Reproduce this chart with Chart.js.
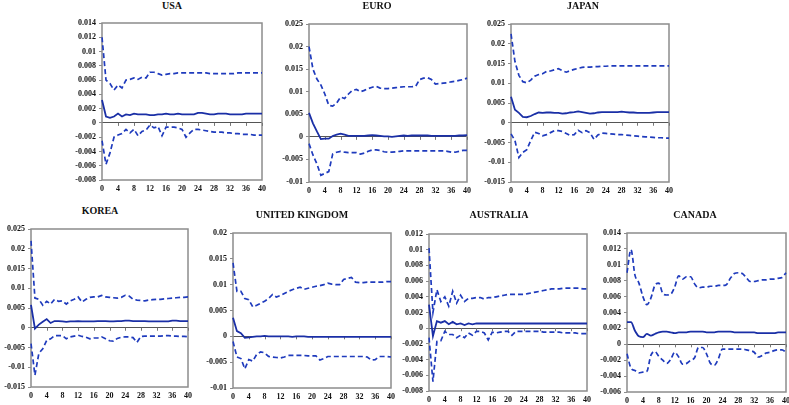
<!DOCTYPE html>
<html>
<head>
<meta charset="utf-8">
<script src="https://cdn.jsdelivr.net/npm/chart.js@4/dist/chart.umd.min.js"></script>
<style>
  body { margin: 0; background: #fff; width: 789px; height: 405px; overflow: hidden; position: relative; }
  .panel { position: absolute; }
  .title { position: absolute; font-family: "Liberation Serif", serif; font-weight: bold; font-size: 10px; color: #111; transform: translate(-50%, -50%); white-space: nowrap; }
</style>
</head>
<body>
<script>
//================================ DATA ================================//
var horizons = Array.from({length: 41}, function(_, i){ return i; });

var usaUpper = [0.012, 0.006, 0.0055, 0.0046, 0.0053, 0.0049, 0.006, 0.0061, 0.0063, 0.0061,
  0.0064, 0.0063, 0.0071, 0.0071, 0.0069, 0.0067, 0.0068, 0.0069, 0.0069, 0.007,
  0.007, 0.007, 0.007, 0.007, 0.007, 0.007, 0.007, 0.0069, 0.0069, 0.0069,
  0.0069, 0.0069, 0.0069, 0.0069, 0.007, 0.007, 0.007, 0.007, 0.007, 0.007, 0.007];
var usaIrf = [0.0032, 0.0009, 0.0007, 0.0009, 0.0013, 0.0009, 0.0012, 0.0011, 0.0013, 0.0012,
  0.0012, 0.0012, 0.0011, 0.0011, 0.0012, 0.0012, 0.0013, 0.0012, 0.0012, 0.0013,
  0.0012, 0.0012, 0.0012, 0.0012, 0.0014, 0.0014, 0.0013, 0.0012, 0.0012, 0.0013,
  0.0013, 0.0013, 0.0012, 0.0012, 0.0012, 0.0012, 0.0013, 0.0013, 0.0013, 0.0013, 0.0013];
var usaLower = [-0.0025, -0.0058, -0.0042, -0.002, -0.0017, -0.0015, -0.0009, -0.0014, -0.0009, -0.0018,
  -0.0012, -0.001, -0.0003, -0.0007, -0.0005, -0.0018, -0.0006, -0.0006, -0.0006, -0.0007,
  -0.0009, -0.002, -0.0014, -0.0009, -0.0009, -0.001, -0.0011, -0.0012, -0.0013, -0.0013,
  -0.0013, -0.0014, -0.0014, -0.0015, -0.0015, -0.0016, -0.0016, -0.0016, -0.0017, -0.0017, -0.0017];

var euroUpper = [0.02, 0.015, 0.0128, 0.0115, 0.0095, 0.007, 0.0068, 0.0075, 0.0088, 0.0085,
  0.0095, 0.0103, 0.0105, 0.01, 0.0103, 0.0107, 0.011, 0.0112, 0.0108, 0.0107,
  0.0107, 0.0108, 0.0109, 0.011, 0.0111, 0.0111, 0.0111, 0.0112, 0.0127, 0.013,
  0.0131, 0.0127, 0.0117, 0.0118, 0.0119, 0.012, 0.0122, 0.0123, 0.0125, 0.0127, 0.013];
var euroIrf = [0.0053, 0.003, 0.0012, -0.0005, -0.0004, -0.0004, 0.0002, 0.0005, 0.0007, 0.0005,
  0.0002, 0.0002, 0.0002, 0.0002, 0.0002, 0.0003, 0.0004, 0.0003, 0.0002, 0.0001,
  0.0001, 0.0, 0.0001, 0.0002, 0.0003, 0.0002, 0.0003, 0.0003, 0.0003, 0.0003,
  0.0003, 0.0002, 0.0002, 0.0002, 0.0002, 0.0002, 0.0002, 0.0002, 0.0003, 0.0003, 0.0004];
var euroLower = [-0.0015, -0.004, -0.006, -0.0085, -0.0081, -0.0077, -0.0038, -0.0034, -0.0032, -0.0034,
  -0.0035, -0.0035, -0.0035, -0.0038, -0.0036, -0.0032, -0.0029, -0.0029, -0.003, -0.0033,
  -0.0034, -0.0034, -0.0033, -0.0032, -0.0031, -0.0031, -0.0031, -0.0031, -0.0031, -0.0031,
  -0.0031, -0.0031, -0.0031, -0.0031, -0.0031, -0.0032, -0.0034, -0.0034, -0.0032, -0.003, -0.003];

var japanUpper = [0.0225, 0.0155, 0.012, 0.0104, 0.0101, 0.0108, 0.0118, 0.0122, 0.0124, 0.013,
  0.0131, 0.0134, 0.0137, 0.0132, 0.0128, 0.0132, 0.0135, 0.0138, 0.014, 0.0141,
  0.0141, 0.0142, 0.0142, 0.0143, 0.0143, 0.0144, 0.0144, 0.0144, 0.0144, 0.0144,
  0.0144, 0.0144, 0.0144, 0.0144, 0.0144, 0.0144, 0.0144, 0.0144, 0.0144, 0.0144, 0.0144];
var japanIrf = [0.0066, 0.0033, 0.0025, 0.0015, 0.0014, 0.0017, 0.0022, 0.0026, 0.0025, 0.0026,
  0.0026, 0.0025, 0.0025, 0.0023, 0.0024, 0.0026, 0.0027, 0.0029, 0.0027, 0.0025,
  0.0023, 0.0024, 0.0026, 0.0027, 0.0027, 0.0027, 0.0027, 0.0027, 0.0028, 0.0027,
  0.0026, 0.0026, 0.0025, 0.0025, 0.0025, 0.0025, 0.0026, 0.0027, 0.0027, 0.0027, 0.0027];
var japanLower = [-0.0028, -0.0045, -0.0088, -0.0075, -0.0068, -0.0045, -0.0024, -0.0027, -0.0033, -0.003,
  -0.0025, -0.002, -0.002, -0.0022, -0.0027, -0.0032, -0.003, -0.0019, -0.0025, -0.002,
  -0.0025, -0.0042, -0.0031, -0.0026, -0.0027, -0.0028, -0.0029, -0.003, -0.003, -0.0031,
  -0.0032, -0.0033, -0.0034, -0.0035, -0.0036, -0.0036, -0.0037, -0.0038, -0.0038, -0.0039, -0.0039];

var koreaUpper = [0.022, 0.0075, 0.0072, 0.0057, 0.0067, 0.006, 0.0072, 0.0067, 0.0068, 0.006,
  0.0068, 0.0072, 0.0078, 0.0065, 0.0072, 0.0077, 0.0078, 0.0078, 0.0082, 0.0078,
  0.0077, 0.0076, 0.0075, 0.0077, 0.0082, 0.008, 0.0072, 0.007, 0.0069, 0.0068,
  0.007, 0.0071, 0.0072, 0.0072, 0.0073, 0.0074, 0.0075, 0.0076, 0.0077, 0.0077, 0.0078];
var koreaIrf = [0.0058, -0.0002, 0.0008, 0.0015, 0.0022, 0.0012, 0.0017, 0.0017, 0.0016, 0.0015,
  0.0016, 0.0016, 0.0017, 0.0016, 0.0016, 0.0016, 0.0016, 0.0017, 0.0017, 0.0017,
  0.0016, 0.0016, 0.0017, 0.0017, 0.0018, 0.0018, 0.0017, 0.0017, 0.0017, 0.0017,
  0.0016, 0.0016, 0.0016, 0.0016, 0.0016, 0.0016, 0.0018, 0.0018, 0.0017, 0.0017, 0.0017];
var koreaLower = [-0.004, -0.012, -0.0065, -0.0053, -0.0032, -0.0028, -0.002, -0.002, -0.002, -0.0028,
  -0.0023, -0.0021, -0.0019, -0.0022, -0.0024, -0.0028, -0.0026, -0.0026, -0.0023, -0.0028,
  -0.0033, -0.0034, -0.0027, -0.0024, -0.0023, -0.0023, -0.0025, -0.0037, -0.0022, -0.0021,
  -0.0021, -0.0021, -0.0021, -0.0021, -0.002, -0.002, -0.0021, -0.0021, -0.0022, -0.0022, -0.0023];

var ukUpper = [0.0142, 0.0087, 0.0087, 0.0073, 0.0071, 0.0057, 0.006, 0.0064, 0.0068, 0.0073,
  0.0081, 0.0076, 0.0079, 0.0083, 0.0087, 0.009, 0.0093, 0.0095, 0.0091, 0.0093,
  0.0095, 0.0097, 0.0098, 0.01, 0.0103, 0.0101, 0.01, 0.01, 0.011, 0.0112,
  0.0114, 0.0105, 0.0104, 0.0104, 0.0105, 0.0105, 0.0105, 0.0105, 0.0105, 0.0106, 0.0106];
var ukIrf = [0.0036, 0.001, 0.0006, -0.0003, -0.0002, -0.0001, 0.0, 0.0, 0.0001, 0.0,
  0.0, 0.0, 0.0, 0.0, 0.0, -0.0001, 0.0, 0.0, 0.0, -0.0001,
  -0.0001, -0.0001, -0.0001, -0.0001, -0.0001, -0.0001, -0.0001, -0.0001, -0.0001, -0.0001,
  -0.0001, -0.0001, -0.0001, -0.0001, -0.0001, -0.0001, -0.0001, -0.0001, -0.0001, -0.0001, -0.0001];
var ukLower = [-0.001, -0.004, -0.0043, -0.0063, -0.0045, -0.0048, -0.0035, -0.003, -0.0032, -0.0039,
  -0.004, -0.0041, -0.0042, -0.004, -0.0037, -0.0037, -0.0037, -0.0037, -0.0037, -0.0038,
  -0.0038, -0.0038, -0.0046, -0.0043, -0.0039, -0.0039, -0.0039, -0.0039, -0.0039, -0.0039,
  -0.0039, -0.0039, -0.0039, -0.0039, -0.004, -0.0046, -0.0045, -0.0039, -0.0039, -0.0039, -0.004];

var ausUpper = [0.0102, 0.002, 0.0049, 0.0034, 0.004, 0.0028, 0.0047, 0.0032, 0.0042, 0.0034,
  0.0038, 0.0038, 0.0039, 0.0039, 0.0037, 0.0039, 0.0039, 0.004, 0.0041, 0.0042,
  0.0043, 0.0043, 0.0043, 0.0043, 0.0043, 0.0044, 0.0045, 0.0046, 0.0047, 0.0048,
  0.0049, 0.005, 0.005, 0.005, 0.0051, 0.0051, 0.0051, 0.0051, 0.0051, 0.005, 0.005];
var ausIrf = [0.003, -0.001, 0.0009, 0.0007, 0.0009, 0.0005, 0.0008, 0.0005, 0.0006, 0.0004,
  0.0006, 0.0005, 0.0006, 0.0006, 0.0006, 0.0006, 0.0006, 0.0006, 0.0006, 0.0006,
  0.0006, 0.0006, 0.0006, 0.0006, 0.0006, 0.0006, 0.0006, 0.0006, 0.0006, 0.0006,
  0.0006, 0.0006, 0.0006, 0.0006, 0.0006, 0.0006, 0.0006, 0.0006, 0.0006, 0.0006, 0.0006];
var ausLower = [-0.0012, -0.0068, -0.0017, -0.0016, -0.0004, -0.0008, -0.0008, -0.0012, -0.0009, -0.0012,
  -0.0006, -0.0009, -0.0004, -0.0004, -0.0006, -0.0015, -0.0005, -0.0006, -0.0005, -0.0004,
  -0.0004, -0.0009, -0.0004, -0.0004, -0.0004, -0.0004, -0.0004, -0.0004, -0.0004, -0.0005,
  -0.0005, -0.0005, -0.0005, -0.0005, -0.0006, -0.0006, -0.0006, -0.0006, -0.0007, -0.0007, -0.0007];

var canadaUpper = [0.009, 0.0119, 0.0087, 0.0077, 0.006, 0.005, 0.0058, 0.0074, 0.0077, 0.0064,
  0.0062, 0.0063, 0.0072, 0.0086, 0.0082, 0.0085, 0.0085, 0.0076, 0.0071, 0.0072,
  0.0072, 0.0073, 0.0073, 0.0074, 0.0074, 0.0075, 0.0083, 0.0089, 0.009, 0.0089,
  0.0084, 0.0079, 0.0079, 0.008, 0.0081, 0.0081, 0.0082, 0.0082, 0.0083, 0.0084, 0.009];
var canadaIrf = [0.0028, 0.0028, 0.0017, 0.001, 0.0009, 0.0013, 0.0011, 0.0013, 0.0015, 0.0016,
  0.0016, 0.0015, 0.0014, 0.0015, 0.0015, 0.0015, 0.0016, 0.0016, 0.0016, 0.0016,
  0.0015, 0.0015, 0.0015, 0.0016, 0.0016, 0.0016, 0.0016, 0.0015, 0.0015, 0.0015,
  0.0015, 0.0015, 0.0015, 0.0014, 0.0014, 0.0014, 0.0014, 0.0014, 0.0015, 0.0015, 0.0015];
var canadaLower = [-0.0012, -0.003, -0.0033, -0.0036, -0.0035, -0.0034, -0.0014, -0.0009, -0.0015, -0.002,
  -0.0024, -0.0019, -0.001, -0.0016, -0.0025, -0.0024, -0.002, -0.0017, -0.0004, -0.0004,
  -0.0012, -0.0024, -0.0026, -0.0018, -0.0006, -0.0006, -0.0006, -0.0006, -0.0006, -0.0006,
  -0.0007, -0.0008, -0.001, -0.0016, -0.0014, -0.0011, -0.001, -0.0008, -0.0007, -0.0007, -0.001];

// y axis ranges [min, max, step]
var usaTicks = [-0.008, 0.014, 0.002];
var euroTicks = [-0.01, 0.025, 0.005];
var japanTicks = [-0.015, 0.025, 0.005];
var koreaTicks = [-0.015, 0.025, 0.005];
var ukTicks = [-0.01, 0.02, 0.005];
var ausTicks = [-0.008, 0.012, 0.002];
var canadaTicks = [-0.006, 0.014, 0.002];

//============================== LAYOUT ==============================//
// plot box in page pixels: x0, x1, y0, y1 ; title centre tx, ty
var panels = [
  {name: "USA", up: usaUpper, mid: usaIrf, lo: usaLower, ticks: usaTicks, box: [102, 262, 23, 180], title: [172, 5]},
  {name: "EURO", up: euroUpper, mid: euroIrf, lo: euroLower, ticks: euroTicks, box: [309, 467, 24, 182], title: [377, 5]},
  {name: "JAPAN", up: japanUpper, mid: japanIrf, lo: japanLower, ticks: japanTicks, box: [511, 669, 24, 182], title: [583, 5]},
  {name: "KOREA", up: koreaUpper, mid: koreaIrf, lo: koreaLower, ticks: koreaTicks, box: [31, 188, 229, 387], title: [100, 210]},
  {name: "UNITED KINGDOM", up: ukUpper, mid: ukIrf, lo: ukLower, ticks: ukTicks, box: [233, 391, 233, 388], title: [302, 214]},
  {name: "AUSTRALIA", up: ausUpper, mid: ausIrf, lo: ausLower, ticks: ausTicks, box: [429, 587, 234, 391], title: [499, 214]},
  {name: "CANADA", up: canadaUpper, mid: canadaIrf, lo: canadaLower, ticks: canadaTicks, box: [627, 786, 233, 392], title: [695, 214], smooth: true}
];

var yAxisW = 40;
var xAxisH = 16;
var padTop = 6;
var padRight = 8;
var lineColor = "#1f3bbd";
var tickFont = {family: "'Liberation Serif', serif", size: 8, weight: "bold"};

// gray plot-area frame plus little tick marks on the zero line
var framePlugin = {
  id: "frame",
  beforeDatasetsDraw: function(chart){
    var a = chart.chartArea, ctx = chart.ctx;
    var xs = chart.scales.x, ys = chart.scales.y;
    ctx.save();
    ctx.strokeStyle = "#8c8c8c";
    ctx.lineWidth = 1.5;
    ctx.strokeRect(a.left, a.top, a.right - a.left, a.bottom - a.top);
    var y0 = ys.getPixelForValue(0);
    ctx.strokeStyle = "#777";
    ctx.lineWidth = 1;
    for(var i = 4; i <= 40; i += 4){
      var px = Math.round(xs.getPixelForValue(i)) + 0.5;
      ctx.beginPath();
      ctx.moveTo(px, y0);
      ctx.lineTo(px, y0 + 3);
      ctx.stroke();
    }
    ctx.restore();
  }
};

panels.forEach(function(p){
  var x0 = p.box[0], x1 = p.box[1], y0 = p.box[2], y1 = p.box[3];
  var div = document.createElement("div");
  div.className = "panel";
  div.style.left = (x0 - yAxisW) + "px";
  div.style.top = (y0 - padTop) + "px";
  div.style.width = (x1 - x0 + yAxisW + padRight) + "px";
  div.style.height = (y1 - y0 + padTop + xAxisH) + "px";
  var cv = document.createElement("canvas");
  div.appendChild(cv);
  document.body.appendChild(div);

  var t = document.createElement("div");
  t.className = "title";
  t.style.left = p.title[0] + "px";
  t.style.top = p.title[1] + "px";
  t.textContent = p.name;
  document.body.appendChild(t);

  var interp = p.smooth ? "monotone" : "default";
  var tens = p.smooth ? 0.4 : 0;

  new Chart(cv, {
    type: "line",
    data: {
      labels: horizons,
      datasets: [{
        data: p.up, borderColor: lineColor, borderWidth: 1.7, borderDash: [5, 3],
        pointRadius: 0, fill: false, tension: tens, cubicInterpolationMode: interp
      },{
        data: p.mid, borderColor: "#1a2fa6", borderWidth: 1.8,
        pointRadius: 0, fill: false, tension: tens, cubicInterpolationMode: interp
      },{
        data: p.lo, borderColor: lineColor, borderWidth: 1.7, borderDash: [5, 3],
        pointRadius: 0, fill: false, tension: tens, cubicInterpolationMode: interp
      }]
    },
    options: {
      responsive: true,
      maintainAspectRatio: false,
      animation: false,
      layout: {padding: {left: 0, top: padTop, right: padRight, bottom: 0}},
      plugins: {legend: {display: false}, tooltip: {enabled: false}},
      scales: {
        x: {
          grid: {display: false, drawTicks: false},
          border: {display: false},
          ticks: {
            autoSkip: false, maxRotation: 0, padding: 4, color: "#111", font: tickFont,
            callback: function(v, i){ return i % 4 === 0 ? String(horizons[i]) : ""; }
          },
          afterFit: function(s){ s.height = xAxisH; s.paddingLeft = 0; s.paddingRight = 0; }
        },
        y: {
          min: p.ticks[0], max: p.ticks[1],
          grid: {
            color: function(c){ return c.tick && Math.abs(c.tick.value) < 1e-9 ? "#555" : "rgba(0,0,0,0)"; },
            tickColor: "#8c8c8c", tickLength: 3, lineWidth: 1
          },
          border: {display: false},
          ticks: {
            stepSize: p.ticks[2], padding: 3, color: "#111", font: tickFont,
            callback: function(v){ return String(Number(v.toFixed(4))); }
          },
          afterFit: function(s){ s.width = yAxisW; s.paddingTop = 0; s.paddingBottom = 0; }
        }
      }
    },
    plugins: [framePlugin]
  });
});
</script>
</body>
</html>
